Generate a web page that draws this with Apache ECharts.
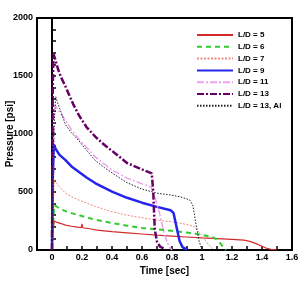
<!DOCTYPE html>
<html><head><meta charset="utf-8">
<script src="https://cdn.jsdelivr.net/npm/echarts@6/dist/echarts.min.js"></script>
<style>html,body{margin:0;padding:0;background:#fff}#c{width:299px;height:282px}</style>
</head><body><div id="c"></div>
<script>
// Data
var seriesNames = ['L/D = 5', 'L/D = 6', 'L/D = 7', 'L/D = 9', 'L/D = 11', 'L/D = 13', 'L/D = 13, Al'];
var xTickLabels = ['0', '0.2', '0.4', '0.6', '0.8', '1', '1.2', '1.4', '1.6'];
var yTickLabels = ['0', '500', '1000', '1500', '2000'];

var t5 = [0, 0.005, 0.015, 0.03, 0.06, 0.09, 0.13, 0.17, 0.195, 0.2, 0.205, 0.25, 0.3, 0.4, 0.5, 0.6, 0.7, 0.8, 0.9, 1.0, 1.1, 1.2, 1.28, 1.32, 1.36, 1.4, 1.43, 1.46, 1.5];
var p5 = [0, 150, 250, 240, 228, 215, 205, 197, 193, 225, 192, 183, 172, 158, 148, 138, 128, 120, 112, 104, 98, 92, 85, 74, 55, 32, 15, 5, 0];

var t6 = [0, 0.008, 0.015, 0.03, 0.06, 0.09, 0.13, 0.18, 0.23, 0.29, 0.35, 0.4, 0.5, 0.6, 0.7, 0.8, 0.9, 1.0, 1.07, 1.1, 1.13, 1.16];
var p6 = [0, 250, 385, 375, 350, 335, 318, 300, 282, 260, 245, 232, 210, 190, 178, 165, 150, 130, 112, 90, 45, 0];

var t7 = [0, 0.008, 0.015, 0.03, 0.06, 0.09, 0.13, 0.18, 0.23, 0.29, 0.35, 0.4, 0.5, 0.6, 0.7, 0.8, 0.9, 0.95, 1.0, 1.04, 1.08];
var p7 = [0, 400, 605, 575, 530, 490, 460, 430, 405, 375, 350, 330, 300, 278, 258, 243, 220, 200, 125, 50, 0];

var t9 = [0, 0.005, 0.012, 0.025, 0.05, 0.09, 0.13, 0.18, 0.23, 0.29, 0.35, 0.4, 0.5, 0.6, 0.7, 0.79, 0.81, 0.83, 0.85, 0.87, 0.9];
var p9 = [0, 600, 910, 870, 820, 775, 720, 672, 625, 575, 535, 503, 450, 408, 372, 343, 320, 200, 80, 25, 3];

var t11 = [0, 0.008, 0.015, 0.03, 0.06, 0.09, 0.13, 0.18, 0.23, 0.29, 0.35, 0.4, 0.5, 0.6, 0.66, 0.69, 0.72, 0.75, 0.78, 0.8];
var p11 = [0, 800, 1250, 1230, 1170, 1120, 1035, 955, 885, 800, 740, 690, 620, 570, 545, 440, 300, 130, 30, 0];

var t13 = [0, 0.005, 0.01, 0.02, 0.04, 0.06, 0.09, 0.11, 0.14, 0.18, 0.23, 0.29, 0.35, 0.4, 0.5, 0.6, 0.665, 0.675, 0.685, 0.7, 0.72, 0.75];
var p13 = [0, 1400, 1690, 1650, 1560, 1490, 1410, 1350, 1260, 1160, 1060, 975, 905, 855, 750, 695, 660, 500, 180, 70, 30, 10];

var t13al = [0, 0.008, 0.015, 0.025, 0.04, 0.06, 0.09, 0.13, 0.18, 0.23, 0.29, 0.35, 0.4, 0.5, 0.6, 0.7, 0.79, 0.85, 0.9, 0.92, 0.94, 0.96, 0.98, 1.0];
var p13al = [0, 700, 1100, 1320, 1260, 1190, 1080, 1010, 940, 860, 770, 710, 665, 580, 525, 490, 474, 460, 440, 430, 380, 220, 80, 0];

function pairs(t, p) { return t.map(function (v, i) { return [v, p[i]]; }); }

var styles = [
  { color: '#d22a2a', width: 1.2, type: 'solid' },
  { color: '#2ecc2e', width: 2, type: [5, 4] },
  { color: '#f08a80', width: 1, type: [2, 1.5] },
  { color: '#2424ee', width: 2.5, type: 'solid' },
  { color: '#f0a0ee', width: 1.5, type: [7, 2, 2, 2] },
  { color: '#660066', width: 2.5, type: [7, 2, 2, 2] },
  { color: '#222222', width: 1, type: [1.5, 1.5] }
];
var dataSets = [pairs(t5, p5), pairs(t6, p6), pairs(t7, p7), pairs(t9, p9), pairs(t11, p11), pairs(t13, p13), pairs(t13al, p13al)];

var series = seriesNames.map(function (n, i) {
  return {
    name: n, type: 'line', data: dataSets[i], showSymbol: false, symbol: 'none',
    smooth: false, animation: false,
    itemStyle: { color: styles[i].color },
    lineStyle: { color: styles[i].color, width: styles[i].width, type: styles[i].type }
  };
});

var chart = echarts.init(document.getElementById('c'), null, { renderer: 'canvas' });
var bold = { fontFamily: 'Liberation Sans, Arial, sans-serif', fontWeight: 'bold', color: '#000' };
chart.setOption({
  animation: false,
  backgroundColor: '#fff',
  grid: { left: 37, right: 7, top: 18, bottom: 32, show: true, borderColor: '#000', borderWidth: 2,
          containLabel: false, outerBoundsMode: 'none' },
  legend: {
    orient: 'vertical', left: 196, top: 31, padding: 0, itemWidth: 36, itemHeight: 8, itemGap: 3.8,
    data: seriesNames,
    itemStyle: { opacity: 0, borderWidth: 0 },
    textStyle: { fontFamily: 'Liberation Sans, Arial, sans-serif', fontWeight: 'bold', fontSize: 8, color: '#000' }
  },
  xAxis: {
    type: 'value', min: -0.1, max: 1.6, interval: 0.1,
    name: 'Time [sec]', nameLocation: 'middle', nameGap: 16, nameMoveOverlap: false,
    nameTextStyle: Object.assign({ fontSize: 10 }, bold),
    axisLine: { show: true, lineStyle: { color: '#000', width: 2 } },
    axisTick: { show: true, inside: true, length: 4, lineStyle: { color: '#000', width: 1.5 } },
    splitLine: { show: false },
    axisLabel: Object.assign({
      fontSize: 9, margin: 3,
      formatter: function (v) {
        var k = Math.round(v * 10);
        if (k < 0 || k % 2 !== 0) return '';
        var s = (k / 10).toString();
        return xTickLabels.indexOf(s) >= 0 ? s : '';
      }
    }, bold)
  },
  yAxis: {
    type: 'value', min: 0, max: 2000, interval: 500,
    name: 'Pressure [psi]', nameLocation: 'middle', nameGap: 22, nameRotate: 90, nameMoveOverlap: false,
    nameTextStyle: Object.assign({ fontSize: 10 }, bold),
    axisLine: { show: true, lineStyle: { color: '#000', width: 2 } },
    axisTick: { show: true, inside: true, length: 4, lineStyle: { color: '#000', width: 1.5 } },
    minorTick: { show: true, splitNumber: 5, length: 4, lineStyle: { color: '#000', width: 1.5 } },
    splitLine: { show: false },
    axisLabel: Object.assign({ fontSize: 9, margin: 4,
      formatter: function (v) { var s = String(v); return yTickLabels.indexOf(s) >= 0 ? s : ''; } }, bold)
  },
  series: series
});
</script></body></html>
